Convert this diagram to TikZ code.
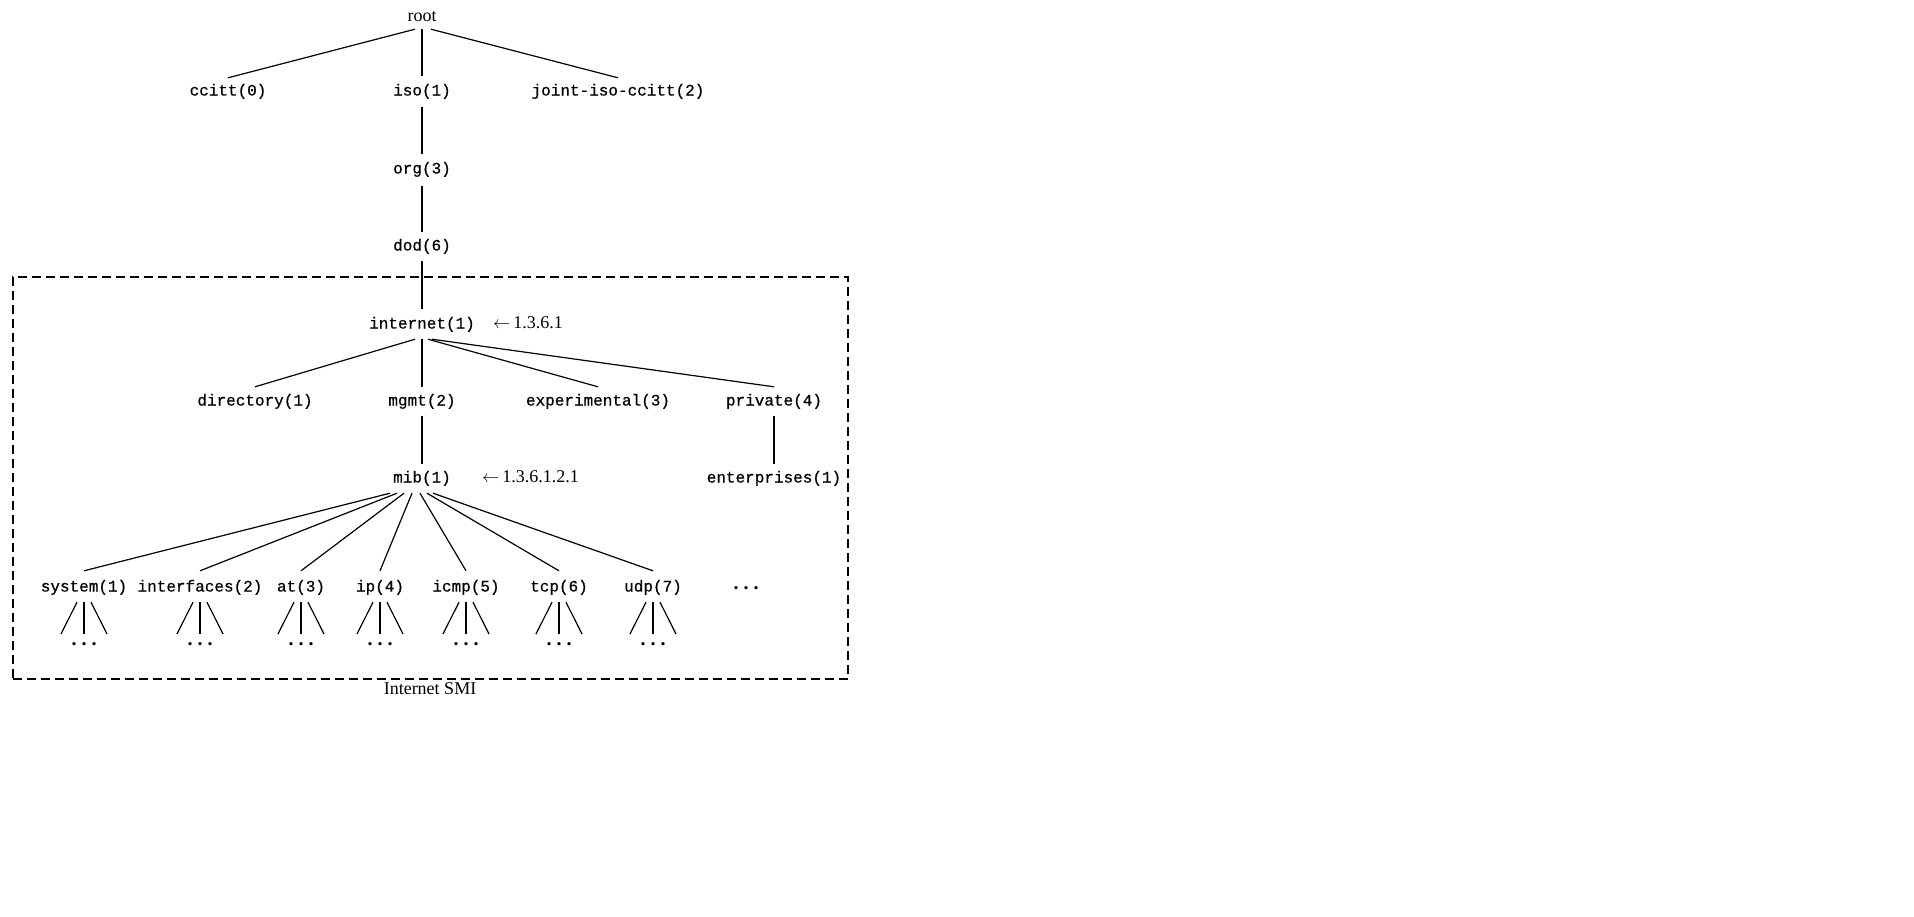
\documentclass[tikz,border=0pt]{standalone}
\usepackage{fontspec}
\setmainfont{Liberation Serif}
\setmonofont[FakeBold=0.6]{Liberation Mono}
\newcommand\spdots{{\bfseries\fontsize{20}{22}\selectfont.\kern5pt.\kern5pt.}}
\begin{document}
\begin{tikzpicture}[x=1pt,y=-1pt,
  lbl/.style={inner sep=0pt, text height=11pt, text depth=4pt, font=\fontsize{16}{19}\selectfont\ttfamily},
  srf/.style={inner sep=0pt, text height=11pt, text depth=4pt, font=\fontsize{18}{21}\selectfont},
  tl/.style={line width=1.2pt},
  smibox/.style={draw, line width=1.2pt, dash pattern=on 9pt off 5pt, inner sep=0pt}]
\useasboundingbox (0,0) rectangle (1914,916);

% dashed box
\node[smibox, minimum width=835pt, minimum height=402pt] (smi) at (430.5,478) {};
\node[srf] (smilabel) at (430,691) {Internet SMI};

% nodes
\node[srf] (root) at (422,18) {root};
\node[lbl] (ccitt) at (228,92) {ccitt(0)};
\node[lbl] (iso) at (422,92) {iso(1)};
\node[lbl] (joint) at (618,92) {joint-iso-ccitt(2)};
\node[lbl] (org) at (422,170) {org(3)};
\node[lbl] (dod) at (422,247) {dod(6)};
\node[lbl] (internet) at (422,325) {internet(1)};
\node[srf, anchor=west] (oid1) at (493,325) {$\leftarrow$\,1.3.6.1};
\node[lbl] (directory) at (255,402) {directory(1)};
\node[lbl] (mgmt) at (422,402) {mgmt(2)};
\node[lbl] (experimental) at (598,402) {experimental(3)};
\node[lbl] (private) at (774,402) {private(4)};
\node[lbl] (mib) at (422,479) {mib(1)};
\node[srf, anchor=west] (oid2) at (482,479) {$\leftarrow$\,1.3.6.1.2.1};
\node[lbl] (enterprises) at (774,479) {enterprises(1)};

\node[lbl] (c1) at (84,588) {system(1)};
\node[lbl] (c2) at (200,588) {interfaces(2)};
\node[lbl] (c3) at (301,588) {at(3)};
\node[lbl] (c4) at (380,588) {ip(4)};
\node[lbl] (c5) at (466,588) {icmp(5)};
\node[lbl] (c6) at (559,588) {tcp(6)};
\node[lbl] (c7) at (653,588) {udp(7)};
\node[srf] (more) at (746,586) {\spdots};

% edges
\draw[tl] ([xshift=-7pt,yshift=-3.5pt]root.south) -- ([yshift=6.5pt]ccitt.north);
\draw[tl] ([yshift=-3.5pt]root.south) -- ([yshift=8.5pt]iso.north);
\draw[tl] ([xshift=9pt,yshift=-3.5pt]root.south) -- ([yshift=6.5pt]joint.north);
\draw[tl] ([yshift=-7.5pt]iso.south) -- ([yshift=8.5pt]org.north);
\draw[tl] ([yshift=-8.5pt]org.south) -- ([yshift=7.5pt]dod.north);
\draw[tl] ([yshift=-6.5pt]dod.south) -- ([yshift=8.5pt]internet.north);
\draw[tl] ([xshift=-7pt,yshift=-6.5pt]internet.south) -- ([yshift=7.5pt]directory.north);
\draw[tl] ([yshift=-6.5pt]internet.south) -- ([yshift=7.5pt]mgmt.north);
\draw[tl] ([xshift=6pt,yshift=-6.5pt]internet.south) -- ([yshift=7.5pt]experimental.north);
\draw[tl] ([xshift=10pt,yshift=-6.5pt]internet.south) -- ([yshift=7.5pt]private.north);
\draw[tl] ([yshift=-6.5pt]mgmt.south) -- ([yshift=7.5pt]mib.north);
\draw[tl] ([yshift=-6.5pt]private.south) -- ([yshift=7.5pt]enterprises.north);

\foreach \c/\dx in {c1/-32, c2/-25, c3/-18, c4/-10, c5/-2, c6/5, c7/11}
  \draw[tl] ([xshift=\dx pt,yshift=-6.5pt]mib.south) -- ([yshift=9.5pt]\c.north);

% subtrees
\foreach \c/\x in {c1/84, c2/200, c3/301, c4/380, c5/466, c6/559, c7/653} {
  \coordinate (\c-l) at ({\x-23},634);
  \coordinate (\c-m) at (\x,634);
  \coordinate (\c-r) at ({\x+23},634);
  \node[srf] (\c-d) at (\x,642) {\spdots};
  \draw[tl] ([xshift=-7pt,yshift=-6.5pt]\c.south) -- (\c-l);
  \draw[tl] ([yshift=-6.5pt]\c.south) -- (\c-m);
  \draw[tl] ([xshift=7pt,yshift=-6.5pt]\c.south) -- (\c-r);
}
\end{tikzpicture}
\end{document}
